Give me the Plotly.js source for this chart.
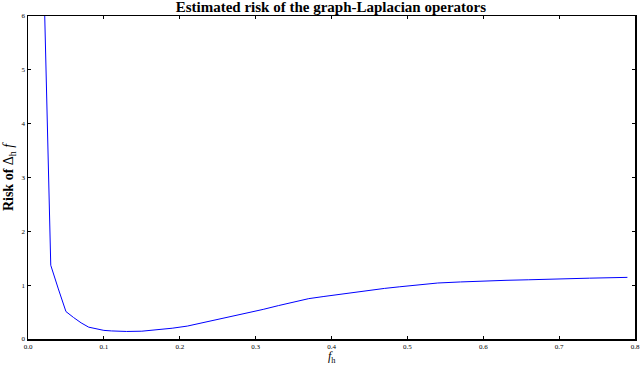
<!DOCTYPE html>
<html>
<head>
<meta charset="utf-8">
<script src="https://cdn.plot.ly/plotly-3.0.1.min.js"></script>
<style>
  html, body { margin: 0; padding: 0; background: #fff; }
  #plot { width: 640px; height: 365px; }
</style>
</head>
<body>
<div id="plot"></div>
<script>
// bandwidth values and estimated risk
var fh = [0.02, 0.03, 0.04, 0.05, 0.06, 0.07, 0.08, 0.09, 0.10, 0.11, 0.13, 0.15, 0.17, 0.19,
          0.21, 0.23, 0.25, 0.27, 0.29, 0.31, 0.33, 0.35, 0.37, 0.39, 0.41, 0.43, 0.45, 0.47,
          0.49, 0.51, 0.54, 0.57, 0.60, 0.63, 0.66, 0.70, 0.74, 0.79];
var risk = [7.2, 1.37, 0.93, 0.51, 0.40, 0.30, 0.22, 0.19, 0.16, 0.15, 0.14, 0.145, 0.17, 0.20,
            0.24, 0.30, 0.36, 0.42, 0.48, 0.55, 0.62, 0.69, 0.75, 0.79, 0.83, 0.87, 0.91, 0.94,
            0.97, 1.00, 1.04, 1.06, 1.08, 1.09, 1.10, 1.12, 1.13, 1.145];

var xTicks = [0, 0.1, 0.2, 0.3, 0.4, 0.5, 0.6, 0.7, 0.8];
var xTickText = ["0.0", "0.1", "0.2", "0.3", "0.4", "0.5", "0.6", "0.7", "0.8"];
var yTicks = [0, 1, 2, 3, 4, 5, 6];

var trace = {
  x: fh,
  y: risk,
  type: "scatter",
  mode: "lines",
  line: {color: "#0000ff", width: 1},
  hoverinfo: "none"
};

var axisStyle = {
  showline: true,
  linecolor: "#000",
  linewidth: 1.5,
  mirror: "ticks",
  ticks: "inside",
  ticklen: 3,
  tickcolor: "#000",
  showgrid: false,
  zeroline: false,
  tickfont: {family: "Liberation Serif", size: 7, color: "#000"}
};

var layout = {
  width: 640,
  height: 365,
  margin: {l: 28, r: 5, t: 16, b: 26},
  paper_bgcolor: "#fff",
  plot_bgcolor: "#fff",
  showlegend: false,
  font: {family: "Liberation Serif", color: "#000"},
  title: {
    text: "<b>Estimated risk of the graph-Laplacian operators</b>",
    font: {family: "Liberation Serif", size: 15, color: "#000"},
    x: 0.517, xanchor: "center", y: 0.995, yanchor: "top"
  },
  xaxis: Object.assign({}, axisStyle, {
    range: [0, 0.8],
    tickvals: xTicks,
    ticktext: xTickText
  }),
  yaxis: Object.assign({}, axisStyle, {
    range: [0, 6],
    tickvals: yTicks,
    title: {text: "<b>Risk of</b> Δ<sub>h</sub> <i>f</i>", font: {family: "Liberation Serif", size: 14}, standoff: 4}
  }),
  // x title placed by hand so it clears the tick labels
  annotations: [{
    text: "<i>f</i><sub>h</sub>",
    xref: "paper", yref: "paper",
    x: 0.5, y: -0.024,
    xanchor: "center", yanchor: "top",
    showarrow: false,
    font: {family: "Liberation Serif", size: 12, color: "#000000"}
  }]
};

Plotly.newPlot("plot", [trace], layout, {staticPlot: true});
</script>
</body>
</html>
